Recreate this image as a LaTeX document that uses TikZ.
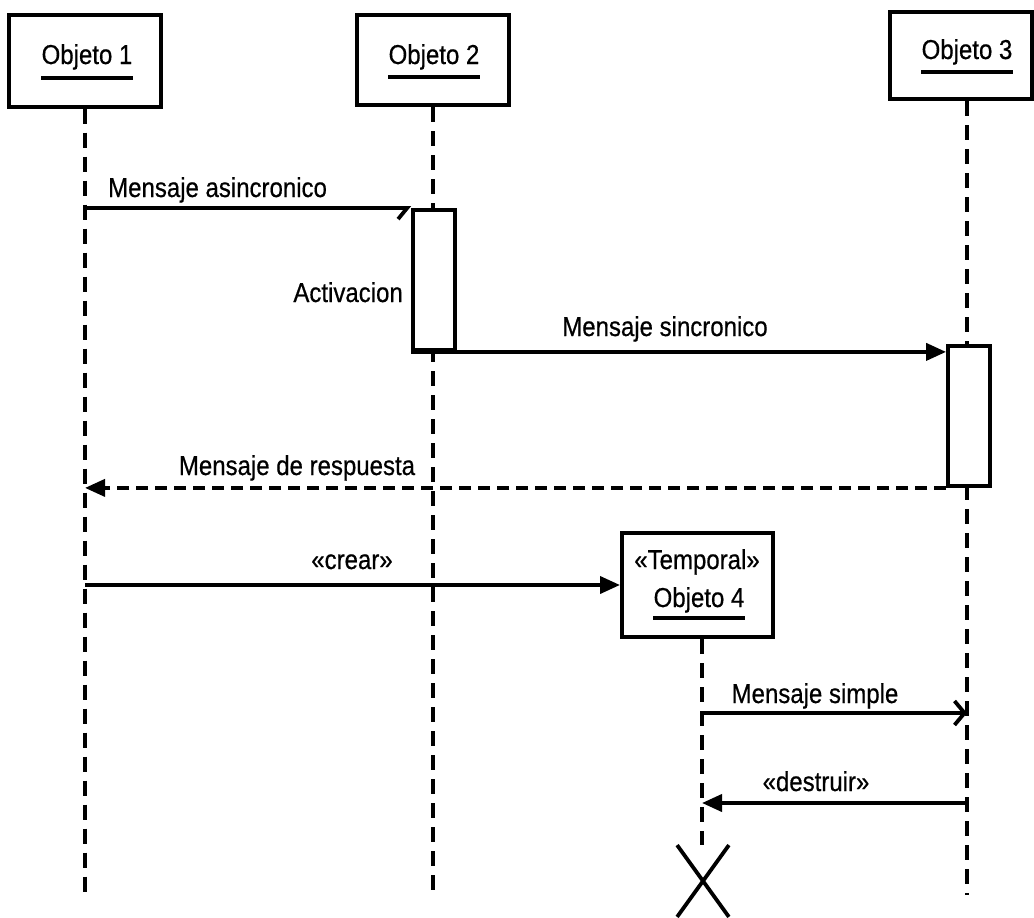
\documentclass[tikz,border=0pt]{standalone}
\usepackage{fontspec}
\setmainfont{Liberation Sans}[FakeBold=0.6]
\usetikzlibrary{arrows.meta,shapes.misc}
% labels are set a little taller than the font's natural shape
\newcommand{\tall}[1]{\scalebox{1}[1.14]{#1}}

\begin{document}
\begin{tikzpicture}[x=1pt,y=-1pt,
  every node/.style={font=\fontsize{24}{29}\selectfont, inner sep=0pt},
  objbox/.style={draw, line width=4pt},
  actbox/.style={draw, line width=3.8pt, fill=white, minimum width=42pt, minimum height=140pt},
  lifeline/.style={line width=3.4pt, dash pattern=on 15pt off 9pt},
  msg/.style={line width=3.8pt},
  retmsg/.style={line width=3.8pt, dash pattern=on 12pt off 7pt},
  filledtip/.style={-{Triangle[length=20pt,width=17pt]}},
  opentip/.style={-{Straight Barb[length=10pt,width=24pt,line width=3.8pt]}},
  halftip/.style={-{Straight Barb[right,length=9pt,width=22pt,line width=3.8pt]}},
  uline/.style={line width=4.2pt}]
\useasboundingbox (0,0) rectangle (1034,918);

% object heads
\node[objbox, minimum width=152pt, minimum height=92pt] (o1) at (85,60.5) {};
\node[anchor=base] (t1) at (87,64) {\tall{Objeto 1}};
\draw[uline] ([yshift=-14pt]t1.base west) -- ([yshift=-14pt]t1.base east);

\node[objbox, minimum width=152pt, minimum height=90pt] (o2) at (433,60) {};
\node[anchor=base] (t2) at (434,64) {\tall{Objeto 2}};
\draw[uline] ([yshift=-13pt]t2.base west) -- ([yshift=-13pt]t2.base east);

\node[objbox, minimum width=142pt, minimum height=87pt] (o3) at (961,55.5) {};
\node[anchor=base] (t3) at (967,59) {\tall{Objeto 3}};
\draw[uline] ([yshift=-13pt]t3.base west) -- ([yshift=-13pt]t3.base east);

\node[objbox, minimum width=151pt, minimum height=104pt] (o4) at (697.5,585) {};
\node[anchor=base] (t4a) at (697,569) {\tall{«Temporal»}};
\node[anchor=base] (t4b) at (699,607) {\tall{Objeto 4}};
\draw[uline] ([yshift=-11pt]t4b.base west) -- ([yshift=-11pt]t4b.base east);

% lifeline ends
\coordinate (e1) at (85,895);
\coordinate (e2) at (433,895);
\coordinate (e3) at (967,895);
\node[draw, cross out, line width=3.8pt, minimum width=48pt, minimum height=68pt] (x4) at (703,881) {};

% lifelines
\draw[lifeline] (o1.south) -- (e1);
\draw[lifeline] (o2.south) -- (e2);
\draw[lifeline] ([xshift=6pt]o3.south) -- (e3);
\draw[lifeline] ([xshift=4.5pt]o4.south) -- (x4.north -| 702,0);

% activation bars
\node[actbox] (a2) at (434,280) {};
\node[actbox] (a3) at (969,416) {};

% messages
\draw[msg, halftip] (a2.north west -| e1) -- (a2.north west);
\node[anchor=base west] (m1) at (108,197) {\tall{Mensaje asincronico}};

\node[anchor=base east] (act) at (403,302) {\tall{Activacion}};

\draw[msg, filledtip] (a2.south west) -- (a2.south west -| a3.west);
\node[anchor=base] (m2) at (665,336) {\tall{Mensaje sincronico}};

\draw[retmsg, filledtip] (a3.south west) -- (a3.south west -| e1);
\node[anchor=base] (m3) at (297,475) {\tall{Mensaje de respuesta}};

\draw[msg, filledtip] (o4.west -| e1) -- (o4.west);
\node[anchor=base] (m4) at (352,569) {\tall{«crear»}};

\coordinate (s4) at (702,713);
\coordinate (s3) at (967,713);
\draw[msg, opentip] (s4) -- (s3);
\node[anchor=base] (m5) at (815,703) {\tall{Mensaje simple}};

\coordinate (d3) at (967,803);
\coordinate (d4) at (702,803);
\draw[msg, filledtip] (d3) -- (d4);
\node[anchor=base] (m6) at (816,791) {\tall{«destruir»}};
\end{tikzpicture}
\end{document}
